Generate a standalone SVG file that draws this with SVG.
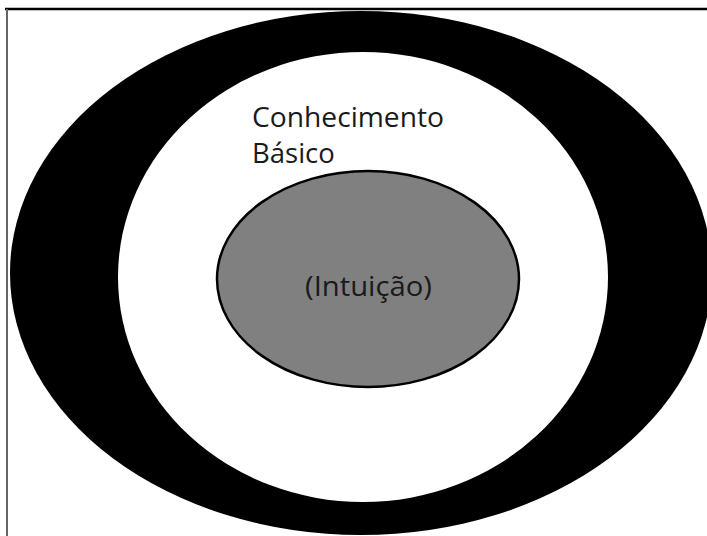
<svg xmlns="http://www.w3.org/2000/svg" width="707" height="536" viewBox="0 0 707 536">
<style>
.t{font-family:"Open Sans","DejaVu Sans",sans-serif;font-size:27.5px;fill:#1a1a1a;}
</style>
<rect width="707" height="536" fill="#fff"/>
<line x1="5" y1="9" x2="707" y2="9" stroke="#000" stroke-width="2.5"/>
<line x1="7" y1="9" x2="7" y2="536" stroke="#666" stroke-width="2"/>
<g id="outer">
<ellipse cx="361" cy="273" rx="351" ry="262" fill="#000"/>
</g>
<g id="basico">
<ellipse cx="363" cy="277" rx="245" ry="225" fill="#fff"/>
<text class="t" x="252" y="127" textLength="192" lengthAdjust="spacingAndGlyphs">Conhecimento</text>
<text class="t" x="252" y="163">Básico</text>
</g>
<g id="intuicao">
<ellipse cx="368" cy="279" rx="151" ry="108" fill="#808080" stroke="#000" stroke-width="2.5"/>
<text class="t" x="305" y="296" textLength="127" lengthAdjust="spacingAndGlyphs">(Intuição)</text>
</g>
<g id="connectors"/>
</svg>
